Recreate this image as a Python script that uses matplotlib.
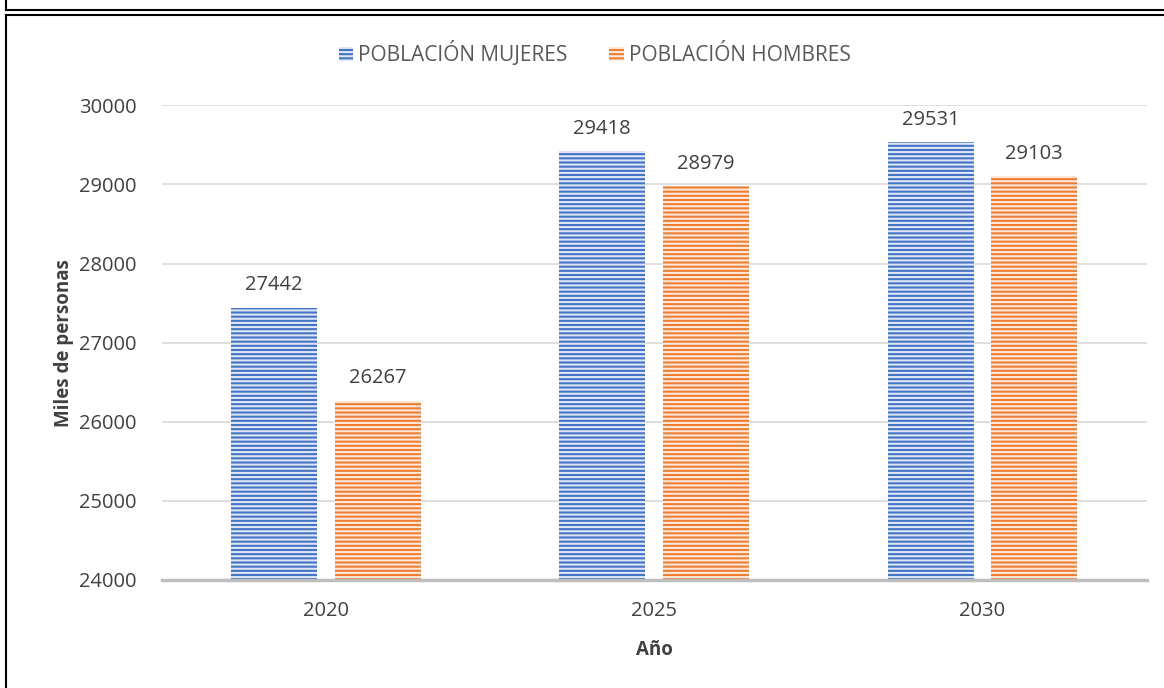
import matplotlib.pyplot as plt
import numpy as np
from matplotlib.lines import Line2D
from matplotlib.patches import Patch

# data
years = ["2020", "2025", "2030"]
mujeres = [27442, 29418, 29531]
hombres = [26267, 28979, 29103]
series_names = ["POBLACIÓN MUJERES", "POBLACIÓN HOMBRES"]

# style
plt.rcParams["font.family"] = ["Open Sans", "DejaVu Sans"]
plt.rcParams["hatch.linewidth"] = 1.5
text_color = "#404040"

fig = plt.figure(figsize=(11.64, 6.88), dpi=100)
ax = fig.add_axes([0.139, 0.157, 0.846, 0.690])

x = np.arange(len(years))
width = 0.262
offset = 0.158

bars1 = ax.bar(x - offset, mujeres, width, bottom=0, color="#4472C4",
               edgecolor="#dfe7f5", linewidth=0, hatch="----", zorder=3)
bars2 = ax.bar(x + offset, hombres, width, bottom=0, color="#ED7D31",
               edgecolor="#fde9dc", linewidth=0, hatch="----", zorder=3)

# data labels
for bars in (bars1, bars2):
    for b in bars:
        ax.annotate(f"{int(b.get_height())}", (b.get_x() + b.get_width() / 2, b.get_height()),
                    xytext=(0, 9), textcoords="offset points", ha="center", va="bottom",
                    fontsize=14.5, color=text_color)

# axes
ax.set_xlim(-0.5, 2.5)
ax.set_ylim(24000, 30000)
ax.set_yticks(range(24000, 30001, 1000))
ax.set_xticks(x)
ax.set_xticklabels(years)
ax.tick_params(axis="both", length=0, labelsize=14.5, labelcolor=text_color)
ax.tick_params(axis="y", pad=18)
ax.tick_params(axis="x", pad=15)
ax.grid(axis="y", color="#d9d9d9", linewidth=1.2, zorder=0)
for s in ["top", "right", "left"]:
    ax.spines[s].set_visible(False)
ax.spines["bottom"].set_color("#bfbfbf")
ax.spines["bottom"].set_linewidth(2.5)
ax.spines["bottom"].set_zorder(4)

ax.set_ylabel("Miles de personas", fontsize=13.5, fontweight="bold", color=text_color, labelpad=4)
ax.set_xlabel("Año", fontsize=13.5, fontweight="bold", color=text_color, labelpad=14)

# legend
handles = [Patch(facecolor="#4472C4", edgecolor="#dfe7f5", linewidth=0, hatch="----"),
           Patch(facecolor="#ED7D31", edgecolor="#fde9dc", linewidth=0, hatch="----")]
fig.legend(handles, series_names, loc="center", bbox_to_anchor=(0.511, 0.922), ncol=2,
           frameon=False, fontsize=15, labelcolor="#595959", handlelength=0.7,
           handleheight=0.7, handletextpad=0.25, columnspacing=2.0)

# frame lines around the chart
fig.add_artist(Line2D([0.005, 1.0], [0.986, 0.986], color="black", linewidth=1.5))
fig.add_artist(Line2D([0.005, 0.005], [0.986, 1.0], color="black", linewidth=1.5))
fig.add_artist(Line2D([0.005, 1.0], [0.978, 0.978], color="black", linewidth=1.5))
fig.add_artist(Line2D([0.005, 0.005], [0.0, 0.978], color="black", linewidth=1.5))

fig.savefig("out.png", dpi=100)
